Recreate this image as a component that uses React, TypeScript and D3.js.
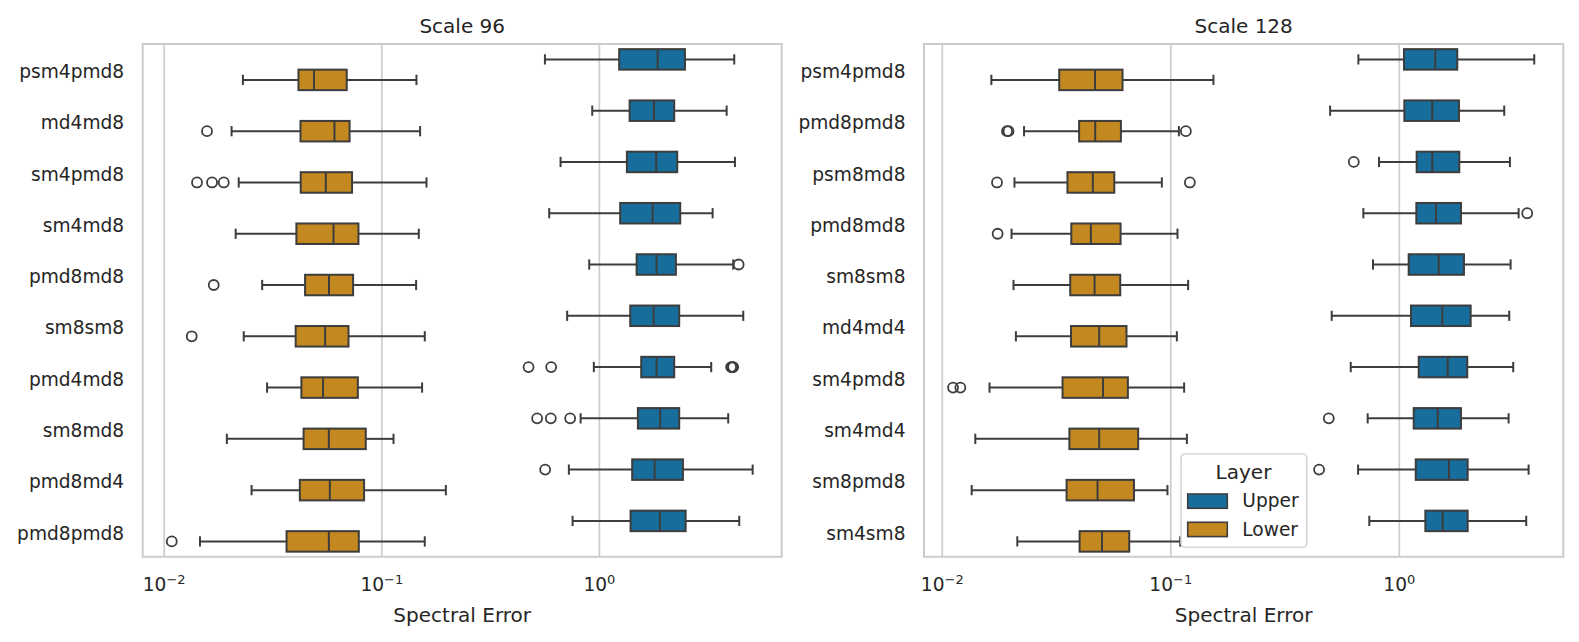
import React from 'react';
import * as d3 from 'd3';

const layers = ['Upper', 'Lower'];
const layerColors = ['#176d9c', '#c38820'];
const lineColor = '#3d3d3d';
const textColor = '#262626';
const gridColor = '#cccccc';
const xTickExponents = [-2, -1, 0];

// ---- Scale 96 ----
const scale96Categories = ['psm4pmd8', 'md4md8', 'sm4pmd8', 'sm4md8', 'pmd8md8', 'sm8sm8', 'pmd4md8', 'sm8md8', 'pmd8md4', 'pmd8pmd8'];
// [whiskerLow, q1, median, q3, whiskerHigh]
const scale96Upper = [
  [0.562, 1.233, 1.852, 2.473, 4.167],
  [0.927, 1.377, 1.781, 2.208, 3.845],
  [0.663, 1.338, 1.824, 2.279, 4.198],
  [0.588, 1.246, 1.757, 2.352, 3.315],
  [0.898, 1.483, 1.832, 2.247, 4.123],
  [0.711, 1.386, 1.775, 2.327, 4.584],
  [0.943, 1.557, 1.832, 2.208, 3.266],
  [0.820, 1.503, 1.903, 2.327, 3.910],
  [0.724, 1.415, 1.794, 2.421, 5.063],
  [0.753, 1.391, 1.897, 2.491, 4.393],
];
const scale96UpperFliers = [
  [], [], [], [], [4.365], [],
  [0.4726, 0.6003, 4.03, 4.08, 4.12],
  [0.5176, 0.598, 0.734],
  [0.5634],
  [],
];
const scale96Lower = [
  [0.0230, 0.0414, 0.0488, 0.0690, 0.1443],
  [0.0204, 0.0423, 0.0606, 0.0711, 0.1500],
  [0.0220, 0.0424, 0.0553, 0.0730, 0.1605],
  [0.0213, 0.0405, 0.0600, 0.0781, 0.1479],
  [0.0282, 0.0444, 0.0572, 0.0738, 0.1438],
  [0.0232, 0.0402, 0.0549, 0.0703, 0.1576],
  [0.0297, 0.0427, 0.0537, 0.0776, 0.1532],
  [0.0194, 0.0437, 0.0571, 0.0844, 0.1132],
  [0.0252, 0.0420, 0.0577, 0.0829, 0.1970],
  [0.0146, 0.0365, 0.0571, 0.0784, 0.1576],
];
const scale96LowerFliers = [
  [], [0.01573], [0.01415, 0.01659, 0.01878], [], [0.01689], [0.01338], [], [], [], [0.01083],
];

// ---- Scale 128 ----
const scale128Categories = ['psm4pmd8', 'pmd8pmd8', 'psm8md8', 'pmd8md8', 'sm8sm8', 'md4md4', 'sm4pmd8', 'sm4md4', 'sm8pmd8', 'sm4sm8'];
const scale128Upper = [
  [0.662, 1.048, 1.437, 1.793, 3.894],
  [0.498, 1.052, 1.394, 1.824, 2.878],
  [0.815, 1.191, 1.394, 1.830, 3.048],
  [0.696, 1.187, 1.447, 1.861, 3.327],
  [0.767, 1.099, 1.487, 1.918, 3.069],
  [0.506, 1.125, 1.542, 2.052, 3.027],
  [0.613, 1.216, 1.628, 1.983, 3.151],
  [0.727, 1.156, 1.472, 1.861, 3.008],
  [0.660, 1.180, 1.649, 1.991, 3.679],
  [0.739, 1.300, 1.548, 1.991, 3.592],
];
const scale128UpperFliers = [
  [], [], [0.632], [3.628], [], [], [], [0.4913], [0.4456], [],
];
const scale128Lower = [
  [0.0164, 0.0325, 0.0466, 0.0615, 0.1537],
  [0.0228, 0.0397, 0.0467, 0.0605, 0.1085],
  [0.0207, 0.0353, 0.0456, 0.0566, 0.0914],
  [0.0201, 0.0367, 0.0447, 0.0603, 0.1070],
  [0.0205, 0.0363, 0.0464, 0.0601, 0.1191],
  [0.0210, 0.0366, 0.0486, 0.0640, 0.1063],
  [0.0161, 0.0336, 0.0505, 0.0649, 0.1144],
  [0.01395, 0.0360, 0.0486, 0.0720, 0.1176],
  [0.01345, 0.0350, 0.0478, 0.0690, 0.0967],
  [0.0213, 0.0399, 0.0500, 0.0658, 0.1099],
];
const scale128LowerFliers = [
  [], [0.0192, 0.0195, 0.1164], [0.01736, 0.1212], [0.01747], [], [], [0.01115, 0.0120], [], [], [],
];

type PanelProps = {
  x0: number; x1: number; y0: number; y1: number;
  title: string;
  categories: string[];
  upper: number[][]; upperFliers: number[][];
  lower: number[][]; lowerFliers: number[][];
  legend?: boolean;
};

const FONT = 'DejaVu Sans, sans-serif';

function Panel(p: PanelProps) {
  const all = [
    ...p.upper.flat(), ...p.lower.flat(),
    ...p.upperFliers.flat(), ...p.lowerFliers.flat(),
  ];
  const lmin = Math.log10(d3.min(all) as number);
  const lmax = Math.log10(d3.max(all) as number);
  const m = (lmax - lmin) * 0.05;
  const x = d3.scaleLog().domain([10 ** (lmin - m), 10 ** (lmax + m)]).range([p.x0, p.x1]);
  const y = d3.scaleBand<string>().domain(p.categories).range([p.y0, p.y1]).padding(0);
  const bw = y.bandwidth();
  const boxH = bw * 0.4;
  const sw = 2;

  const series = [
    { stats: p.upper, fliers: p.upperFliers, color: layerColors[0], off: -0.2 },
    { stats: p.lower, fliers: p.lowerFliers, color: layerColors[1], off: 0.2 },
  ];

  const cx = (p.x0 + p.x1) / 2;

  return (
    <g>
      {xTickExponents.map((e) => (
        <line key={'g' + e} x1={x(10 ** e)} x2={x(10 ** e)} y1={p.y0} y2={p.y1} stroke={gridColor} strokeWidth={1.7} />
      ))}
      <rect x={p.x0} y={p.y0} width={p.x1 - p.x0} height={p.y1 - p.y0} fill="none" stroke={gridColor} strokeWidth={2} />
      {series.map((s, si) =>
        p.categories.map((c, i) => {
          const [lo, q1, med, q3, hi] = s.stats[i];
          const yc = (y(c) as number) + bw / 2 + s.off * bw;
          const capH = boxH / 2;
          return (
            <g key={si + '-' + c}>
              <line x1={x(lo)} x2={x(q1)} y1={yc} y2={yc} stroke={lineColor} strokeWidth={sw} />
              <line x1={x(q3)} x2={x(hi)} y1={yc} y2={yc} stroke={lineColor} strokeWidth={sw} />
              <line x1={x(lo)} x2={x(lo)} y1={yc - capH / 2} y2={yc + capH / 2} stroke={lineColor} strokeWidth={sw} />
              <line x1={x(hi)} x2={x(hi)} y1={yc - capH / 2} y2={yc + capH / 2} stroke={lineColor} strokeWidth={sw} />
              <rect x={x(q1)} y={yc - boxH / 2} width={x(q3) - x(q1)} height={boxH} fill={s.color} stroke={lineColor} strokeWidth={sw} />
              <line x1={x(med)} x2={x(med)} y1={yc - boxH / 2} y2={yc + boxH / 2} stroke={lineColor} strokeWidth={sw} />
              {s.fliers[i].map((f, k) => (
                <circle key={k} cx={x(f)} cy={yc} r={5} fill="none" stroke={lineColor} strokeWidth={1.8} />
              ))}
            </g>
          );
        })
      )}
      {p.categories.map((c) => (
        <text key={'yl' + c} x={p.x0 - 18.5} y={(y(c) as number) + bw / 2} dy="0.45em" textAnchor="end"
          fontFamily={FONT} fontSize={18.6} fill={textColor}>{c}</text>
      ))}
      {xTickExponents.map((e) => (
        <text key={'xl' + e} x={x(10 ** e)} y={p.y1 + 34.5} textAnchor="middle" fontFamily={FONT} fontSize={18.6} fill={textColor}>
          <tspan>10</tspan>
          <tspan dy={-7} fontSize={13}>{e < 0 ? '\u2212' + Math.abs(e) : String(e)}</tspan>
        </text>
      ))}
      <text x={cx} y={p.y0 - 11.5} textAnchor="middle" fontFamily={FONT} fontSize={20} fill={textColor}>{p.title}</text>
      <text x={cx} y={p.y1 + 65} textAnchor="middle" fontFamily={FONT} fontSize={20} fill={textColor}>Spectral Error</text>
      {p.legend && (
        <g transform={`translate(${p.x0 + 257},${p.y0 + 410})`}>
          <rect x={0} y={0} width={125.7} height={93.3} rx={4} fill="#ffffff" fillOpacity={0.8} stroke="#d6d6d6" strokeWidth={1.6} />
          <text x={62.5} y={24.5} textAnchor="middle" fontFamily={FONT} fontSize={20} fill={textColor}>Layer</text>
          {layers.map((l, i) => (
            <g key={l} transform={`translate(0,${40 + i * 28.3})`}>
              <rect x={6.7} y={0} width={39.6} height={14.3} fill={layerColors[i]} stroke={lineColor} strokeWidth={1.6} />
              <text x={61.3} y={13.3} fontFamily={FONT} fontSize={18.6} fill={textColor}>{l}</text>
            </g>
          ))}
        </g>
      )}
    </g>
  );
}

export default function App() {
  return (
    <svg width={1579} height={642} style={{ position: 'absolute', left: 0, top: 0, background: '#fff' }}>
      <rect x={0} y={0} width={1579} height={642} fill="#fff" />
      <Panel x0={142.7} x1={781.7} y0={44} y1={556.8} title="Scale 96"
        categories={scale96Categories} upper={scale96Upper} upperFliers={scale96UpperFliers}
        lower={scale96Lower} lowerFliers={scale96LowerFliers} />
      <Panel x0={924} x1={1563.3} y0={44} y1={556.8} title="Scale 128"
        categories={scale128Categories} upper={scale128Upper} upperFliers={scale128UpperFliers}
        lower={scale128Lower} lowerFliers={scale128LowerFliers} legend />
    </svg>
  );
}
